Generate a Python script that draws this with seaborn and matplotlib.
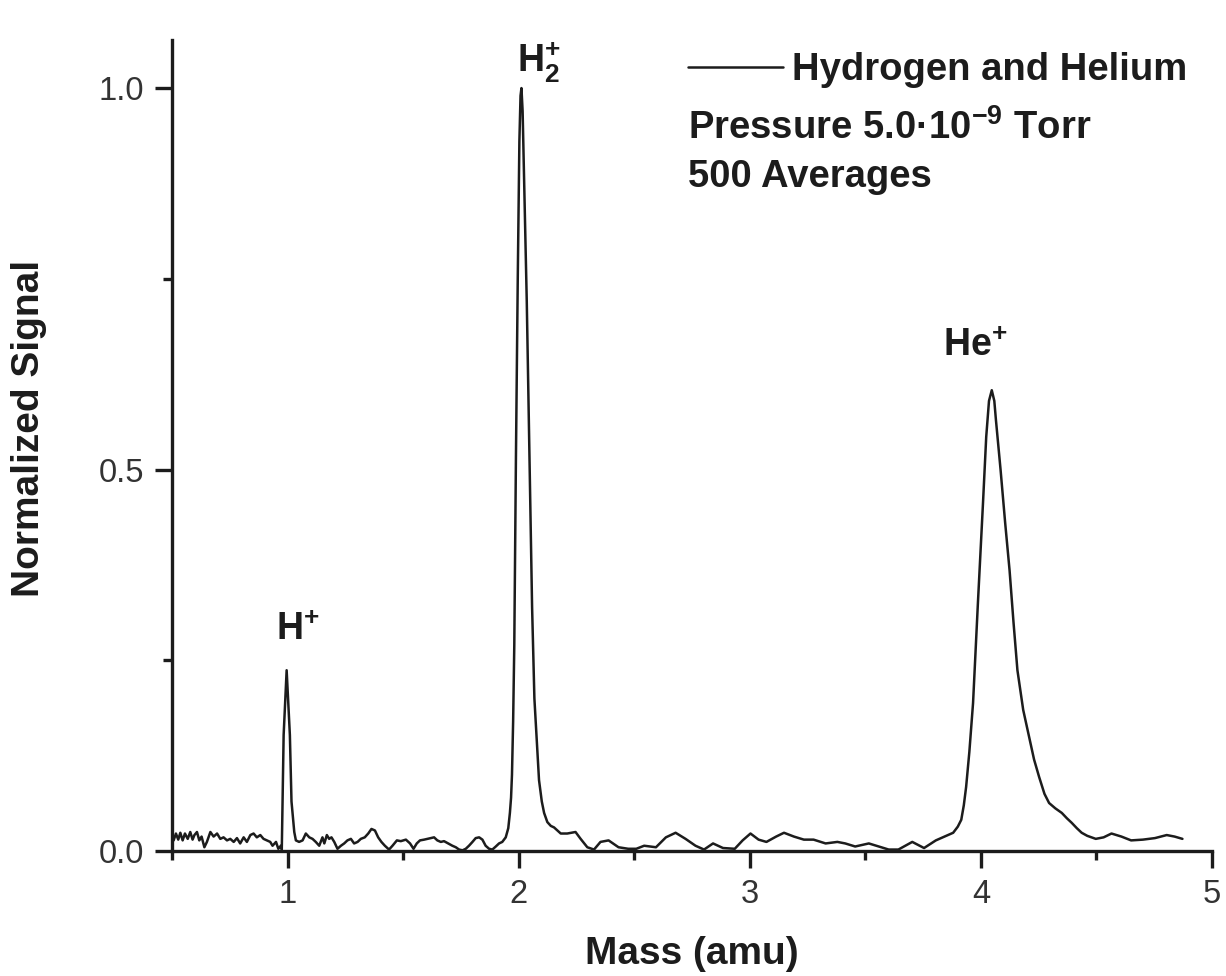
import numpy as np
import pandas as pd
import seaborn as sns
import matplotlib.pyplot as plt
from matplotlib.ticker import MultipleLocator

# Mass spectrum values (mass in amu, normalized signal)
mass = [
    0.507, 0.517, 0.527, 0.536, 0.546, 0.556, 0.568, 0.579, 0.589, 0.597,
    0.608, 0.618, 0.628, 0.640, 0.651, 0.666, 0.680, 0.695, 0.709, 0.723,
    0.738, 0.752, 0.767, 0.781, 0.795, 0.810, 0.824, 0.839, 0.853, 0.867,
    0.882, 0.896, 0.911, 0.925, 0.935, 0.950, 0.960, 0.971, 0.975,
    0.983, 0.996, 1.010, 1.017, 1.029, 1.036, 1.050, 1.065, 1.079, 1.094,
    1.108, 1.122, 1.137, 1.151, 1.159, 1.170, 1.180, 1.190, 1.202, 1.216,
    1.231, 1.245, 1.259, 1.274, 1.288, 1.303, 1.317, 1.334, 1.349, 1.363,
    1.378, 1.392, 1.406, 1.421, 1.439, 1.454, 1.473, 1.490, 1.512, 1.530,
    1.545, 1.559, 1.573, 1.591, 1.605, 1.620, 1.634, 1.648, 1.663, 1.677,
    1.695, 1.713, 1.728, 1.742, 1.757, 1.771, 1.785, 1.800, 1.814, 1.829,
    1.843, 1.857, 1.872, 1.886, 1.901, 1.915, 1.929, 1.944, 1.955, 1.962,
    1.967, 1.971, 1.976, 1.981, 1.988, 1.996, 2.003, 2.008, 2.012, 2.017,
    2.025, 2.035, 2.047, 2.058, 2.068, 2.079, 2.088, 2.100, 2.110, 2.124,
    2.139, 2.153, 2.182, 2.210, 2.246, 2.268, 2.297, 2.326, 2.354, 2.389,
    2.432, 2.474, 2.509, 2.543, 2.594, 2.637, 2.679, 2.722, 2.765, 2.802,
    2.841, 2.884, 2.935, 2.969, 3.003, 3.038, 3.072, 3.114, 3.148, 3.191,
    3.234, 3.276, 3.328, 3.379, 3.413, 3.456, 3.515, 3.558, 3.601, 3.643,
    3.703, 3.754, 3.805, 3.857, 3.880, 3.900, 3.915, 3.926, 3.936, 3.950,
    3.966, 3.987, 4.009, 4.023, 4.035, 4.047, 4.058, 4.065, 4.085, 4.105,
    4.124, 4.141, 4.158, 4.183, 4.209, 4.230, 4.252, 4.275, 4.295, 4.322,
    4.350, 4.372, 4.393, 4.415, 4.436, 4.460, 4.497, 4.531, 4.565, 4.608,
    4.650, 4.701, 4.753, 4.804, 4.838, 4.872,
]
signal = [
    0.014, 0.023, 0.015, 0.024, 0.014, 0.023, 0.016, 0.025, 0.015, 0.021,
    0.025, 0.014, 0.019, 0.005, 0.012, 0.025, 0.019, 0.023, 0.016, 0.018,
    0.014, 0.016, 0.012, 0.017, 0.010, 0.018, 0.012, 0.021, 0.023, 0.018,
    0.021, 0.016, 0.014, 0.012, 0.007, 0.012, 0.003, 0.007, 0.002,
    0.152, 0.237, 0.152, 0.065, 0.025, 0.014, 0.012, 0.014, 0.023, 0.018,
    0.016, 0.012, 0.007, 0.018, 0.010, 0.021, 0.016, 0.018, 0.012, 0.003,
    0.007, 0.010, 0.014, 0.016, 0.010, 0.012, 0.016, 0.018, 0.023, 0.029,
    0.027, 0.018, 0.012, 0.007, 0.002, 0.007, 0.014, 0.013, 0.015, 0.010,
    0.003, 0.010, 0.014, 0.015, 0.016, 0.017, 0.018, 0.014, 0.012, 0.013,
    0.010, 0.007, 0.005, 0.002, 0.001, 0.003, 0.007, 0.012, 0.017, 0.018,
    0.015, 0.007, 0.003, 0.002, 0.006, 0.010, 0.012, 0.018, 0.030, 0.050,
    0.070, 0.100, 0.170, 0.270, 0.512, 0.750, 0.930, 0.990, 1.000, 0.970,
    0.860, 0.720, 0.510, 0.320, 0.200, 0.140, 0.093, 0.065, 0.050, 0.038,
    0.033, 0.031, 0.023, 0.023, 0.025, 0.016, 0.005, 0.002, 0.012, 0.014,
    0.005, 0.003, 0.003, 0.007, 0.005, 0.018, 0.024, 0.016, 0.007, 0.002,
    0.010, 0.004, 0.003, 0.014, 0.023, 0.015, 0.012, 0.019, 0.024, 0.019,
    0.015, 0.015, 0.010, 0.012, 0.010, 0.006, 0.010, 0.006, 0.002, 0.002,
    0.012, 0.004, 0.014, 0.021, 0.024, 0.032, 0.041, 0.060, 0.084, 0.130,
    0.194, 0.325, 0.456, 0.543, 0.590, 0.604, 0.590, 0.565, 0.500, 0.430,
    0.368, 0.300, 0.237, 0.185, 0.149, 0.120, 0.097, 0.075, 0.063, 0.056,
    0.050, 0.043, 0.037, 0.030, 0.024, 0.020, 0.016, 0.018, 0.023, 0.019,
    0.014, 0.015, 0.017, 0.021, 0.019, 0.016,
]

# peak labels: (text, mass, signal) for the lower-left corner of each label
peak_text = ["H$^{+}$", "H$_{2}^{+}$", "He$^{+}$"]
peak_x = [0.948, 1.993, 3.838]
peak_y = [0.277, 1.021, 0.649]

df = pd.DataFrame({"mass": mass, "signal": signal})

sns.set_theme(style="ticks")
plt.rcParams["font.family"] = ["Liberation Sans", "DejaVu Sans"]
plt.rcParams["mathtext.default"] = "regular"

ink = "#1c1c1c"
fig = plt.figure(figsize=(12.26, 9.76), dpi=100)
ax = fig.add_axes([0.1403, 0.128, 0.8483, 0.831])

sns.lineplot(data=df, x="mass", y="signal", ax=ax, color=ink, linewidth=1.8,
             estimator=None, sort=False, label="Hydrogen and Helium")

ax.set_xlim(0.5, 5.0)
ax.set_ylim(0.0, 1.063)
ax.xaxis.set_major_locator(MultipleLocator(1))
ax.xaxis.set_minor_locator(MultipleLocator(0.5))
ax.yaxis.set_major_locator(MultipleLocator(0.5))
ax.yaxis.set_minor_locator(MultipleLocator(0.25))
ax.set_xticks([1, 2, 3, 4, 5])
ax.set_yticks([0.0, 0.5, 1.0])
ax.set_yticklabels(["0.0", "0.5", "1.0"])

for side in ["top", "right"]:
    ax.spines[side].set_visible(False)
for side in ["left", "bottom"]:
    ax.spines[side].set_linewidth(2.4)
    ax.spines[side].set_color(ink)

ax.tick_params(which="major", direction="out", length=12, width=2.4,
               labelsize=23.5, colors=ink, pad=8)
ax.tick_params(which="minor", direction="out", length=6.5, width=2.4, colors=ink)
for lab in ax.get_xticklabels() + ax.get_yticklabels():
    lab.set_color("#333333")

ax.set_xlabel("Mass (amu)", fontsize=28, fontweight="bold", color=ink)
ax.set_ylabel("Normalized Signal", fontsize=28, fontweight="bold", color=ink)
ax.xaxis.set_label_coords(0.5, -0.105)
ax.yaxis.set_label_coords(-0.12, 0.5216)

for t, px, py in zip(peak_text, peak_x, peak_y):
    ax.text(px, py, t, fontsize=27, fontweight="bold", color=ink,
            ha="left", va="baseline")

leg = ax.legend(loc="center left", bbox_to_anchor=(0.496, 0.963),
                frameon=False, fontsize=27.5, handlelength=2.5,
                handletextpad=0.22, borderpad=0, borderaxespad=0)
for txt in leg.get_texts():
    txt.set_fontweight("bold")
    txt.set_color(ink)
for ln in leg.get_lines():
    ln.set_linewidth(1.8)

ax.text(2.731, 0.934, "Pressure 5.0\u00b710$^{-9}$ Torr", fontsize=27.5,
        fontweight="bold", color=ink, ha="left", va="baseline")
ax.text(2.731, 0.870, "500 Averages", fontsize=27.5,
        fontweight="bold", color=ink, ha="left", va="baseline")

plt.savefig("out.png", dpi=100)
